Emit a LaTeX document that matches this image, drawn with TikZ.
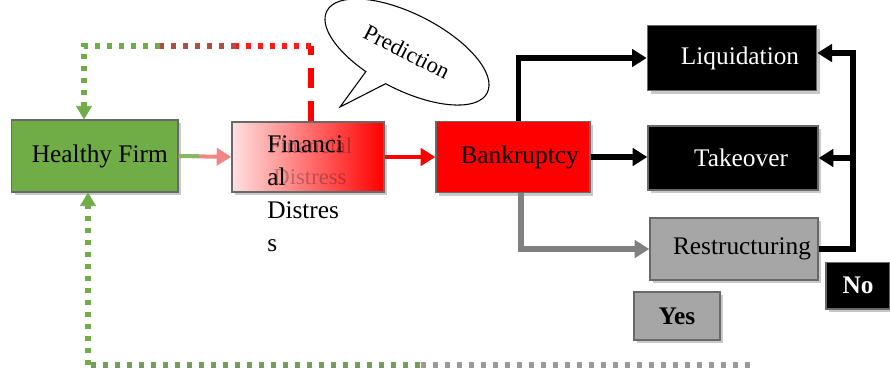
\documentclass[tikz,border=0pt]{standalone}
\usepackage{fontspec}
\setmainfont{Liberation Serif}
\usepackage{tikz}
\usetikzlibrary{arrows.meta,shapes.callouts,shadows}

\definecolor{firmgreen}{RGB}{112,173,71}
\definecolor{boxgray}{RGB}{166,166,166}
\definecolor{edgegray}{RGB}{105,105,105}
\definecolor{linegray}{RGB}{128,128,128}
\definecolor{pinkarrow}{RGB}{240,135,135}
\definecolor{dotbrown}{RGB}{170,80,70}

\begin{document}
\begin{tikzpicture}[x=0.75pt,y=-0.75pt,
        txt/.style={font=\fontsize{19}{23}\selectfont},
        stagebox/.style={draw=edgegray,line width=1pt,inner sep=0pt,txt,
            drop shadow={shadow xshift=2.5pt,shadow yshift=-2.5pt,fill=black!30,opacity=0.7}},
        outbox/.style={stagebox,fill=black,text=white},
        flow/.style={line width=3.8pt,-{Triangle[length=11pt,width=13pt]}},
        loop/.style={line width=4pt,dash pattern=on 4pt off 5pt},
        warn/.style={line width=4.5pt,red,dash pattern=on 15pt off 10pt}]
    \useasboundingbox (0,0) rectangle (890,378);

    % stages
    \node[stagebox,fill=firmgreen,minimum width=125pt,minimum height=54pt] (hf) at (94.5,156) {\hspace{8pt}Healthy Firm};
    \node[stagebox,left color=red!12,right color=red,minimum width=114pt,minimum height=52.5pt] (fd) at (308,157) {};
    \node[txt,opacity=0.25,align=center,font=\fontsize{17}{23}\selectfont] (fdghost) at (310,161) {Financial\\Distress};
    \node[txt,anchor=north west,inner sep=0pt,align=left,font=\fontsize{19}{24.75}\selectfont] (fdtext) at (267,135) {Financi\\al\\Distres\\s};
    \node[stagebox,fill=red,minimum width=115.5pt,minimum height=53pt] (bk) at (513,157) {\hspace{10pt}Bankruptcy};

    % outcomes
    \node[outbox,minimum width=127pt,minimum height=49pt] (lq) at (732,58) {\hspace{12pt}Liquidation};
    \node[outbox,minimum width=127.5pt,minimum height=48pt] (tk) at (733,158) {\hspace{12pt}Takeover};
    \node[stagebox,fill=boxgray,minimum width=126pt,minimum height=46.5pt] (rs) at (734,249) {\hspace{12pt}Restructuring};
    \node[outbox,minimum width=48pt,minimum height=35pt,font=\fontsize{19}{23}\bfseries] (no) at (858,285.5) {No};
    \node[stagebox,fill=boxgray,minimum width=64.5pt,minimum height=36pt,font=\fontsize{19}{23}\bfseries] (yes) at (677,316) {Yes};

    % prediction bubble
    \node[ellipse callout,draw,line width=0.8pt,rotate=-27,minimum width=135pt,minimum height=57pt,
        inner sep=0pt,callout absolute pointer={(340,107)},font=\fontsize{17}{20}\selectfont] (pred) at (407,52) {Prediction};

    % main flow
    \draw[flow,pinkarrow,line width=3pt] (hf.east) -- (fd.west);
    \draw[firmgreen!85,line width=3pt] (hf.east) -- ++(20,0);
    \draw[flow,red,line width=3pt] (fd.east) -- (bk.east -| fd.east) -- (bk.west);
    \draw[flow] ([xshift=4pt]bk.north) |- (lq.west);
    \draw[flow] (bk.east) -- (bk.east -| tk.west);
    \draw[flow,linegray] ([xshift=6pt]bk.south) |- (rs.west);

    % restructuring fails
    \coordinate (rtop) at (853,53);
    \draw[flow] (rs.east) -| (rtop) -- (rtop -| lq.east);
    \draw[flow] (rtop |- tk.east) -- (tk.east);

    % early warning loop
    \coordinate (tr) at (311,46);
    \coordinate (tl) at (84,46);
    \coordinate (tm1) at (236,46);
    \coordinate (tm2) at (160,46);
    \draw[warn] (tr |- fd.north) -- (tr);
    \draw[loop,red!90] (tr) -- (tm1);
    \draw[loop,dotbrown] (tm1) -- (tm2);
    \draw[loop,firmgreen] (tm2) -- (tl) -- ([yshift=8pt]tl |- hf.north);
    \draw[firmgreen,-{Triangle[length=10pt,width=12pt]}] ([yshift=9pt]tl |- hf.north) -- (tl |- hf.north);

    % recovery loop
    \coordinate (bl) at (88,365);
    \coordinate (bm) at (420,365);
    \coordinate (br) at (750,365);
    \draw[loop,linegray!80] (br) -- (bm);
    \draw[loop,firmgreen!60!linegray] (bm) -- (bl);
    \draw[loop,firmgreen] (bl) -- ([yshift=-8pt]bl |- hf.south);
    \draw[firmgreen,-{Triangle[length=10pt,width=12pt]}] ([yshift=-9pt]bl |- hf.south) -- (bl |- hf.south);
\end{tikzpicture}
\end{document}
